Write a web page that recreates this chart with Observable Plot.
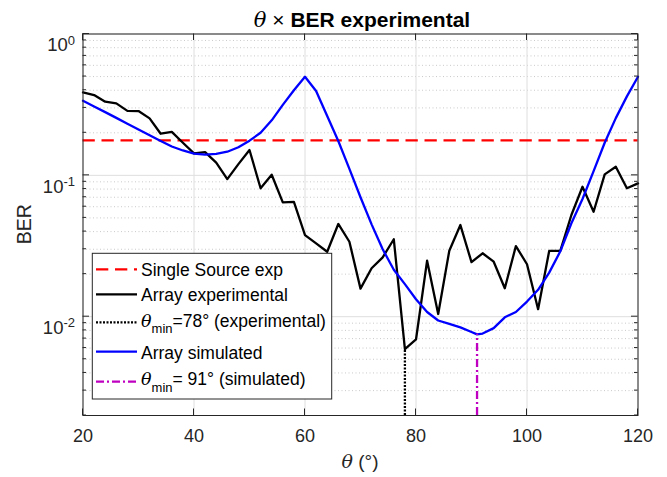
<!DOCTYPE html>
<html><head><meta charset="utf-8">
<script src="https://cdn.jsdelivr.net/npm/d3@7"></script>
<script src="https://cdn.jsdelivr.net/npm/@observablehq/plot@0.6"></script>
<style>
html,body{margin:0;padding:0;background:#fff}
svg{display:block}
</style>
</head><body><div id="chart"></div>
<script>
// ---------- data ----------
const thetaExp = [20,22,24,26,28,30,32,34,36,38,40,42,44,46,48,50,52,54,56,58,60,62,64,66,68,70,72,74,76,78,80,82,84,86,88,90,92,94,96,98,100,102,104,106,108,110,112,114,116,118,120];
const berExp = [0.386,0.370,0.332,0.323,0.286,0.285,0.253,0.197,0.203,0.170,0.143,0.146,0.123,0.094,0.12,0.151,0.081,0.101,0.0644,0.065,0.0378,0.033,0.0288,0.0453,0.0339,0.0158,0.022,0.0263,0.0353,0.0059,0.0069,0.0249,0.01045,0.0293,0.0445,0.0243,0.0281,0.0245,0.0159,0.0316,0.0235,0.0113,0.0292,0.0292,0.0524,0.083,0.0553,0.1016,0.115,0.081,0.0878];
const thetaSim = [20,22,24,26,28,30,32,34,36,38,40,42,44,46,48,50,52,54,56,58,60,62,64,66,68,70,72,74,76,78,80,82,84,86,88,90,91,92,94,96,98,100,102,104,106,108,110,112,114,116,118,120];
const berSim = [0.337,0.307,0.280,0.255,0.232,0.211,0.192,0.175,0.160,0.150,0.1425,0.140,0.142,0.147,0.158,0.176,0.200,0.245,0.315,0.400,0.498,0.395,0.263,0.175,0.111,0.070,0.045,0.030,0.0215,0.0170,0.0133,0.0108,0.0094,0.0089,0.0084,0.0078,0.0075,0.0076,0.0083,0.0099,0.0108,0.0128,0.0155,0.0205,0.0290,0.0458,0.068,0.107,0.17,0.254,0.362,0.498];
const berSingle = 0.177;
const thetaMinExp = 78, berMinExp = 0.0059;
const thetaMinSim = 91, berMinSim = 0.0075;
const xTicks = [20,40,60,80,100,120];
const yTicks = [1,0.1,0.01];
const yMinor = [0.002,0.003,0.004,0.005,0.006,0.007,0.008,0.009,0.02,0.03,0.04,0.05,0.06,0.07,0.08,0.09,0.2,0.3,0.4,0.5,0.6,0.7,0.8,0.9];
const yDomain = [0.002,1];
const xDomain = [20,120];
const legendLabels = ["Single Source exp","Array experimental","=78° (experimental)","Array simulated","= 91° (simulated)"];

// ---------- tables ----------
const expData = thetaExp.map((t,i)=>({t, v:berExp[i]}));
const simData = thetaSim.map((t,i)=>({t, v:berSim[i]}));
const minExp = [{t:thetaMinExp, lo:yDomain[0], hi:berMinExp}];
const minSim = [{t:thetaMinSim, lo:yDomain[0], hi:berMinSim}];

const FONT = "'Liberation Sans', Arial, Helvetica, sans-serif";
const SERIF = "'DejaVu Serif', 'Liberation Serif', serif";
const INK = "#262626";
const LW = 2.3;

const plot = Plot.plot({
  width: 667, height: 477,
  marginLeft: 82.5, marginRight: 29.5, marginTop: 33.5, marginBottom: 62,
  style: {fontFamily: FONT, fontSize: "18px", color: INK, background: "white", overflow: "visible"},
  x: {domain: xDomain},
  y: {type: "log", domain: yDomain},
  marks: [
    Plot.ruleY(yMinor, {stroke: "#bdbdbd", strokeWidth: 0.8, strokeDasharray: "1,2.5"}),
    Plot.ruleX(xTicks, {stroke: "#dedede", strokeWidth: 1}),
    Plot.ruleY(yTicks, {stroke: "#dedede", strokeWidth: 1}),
    Plot.ruleY([berSingle], {stroke: "#ff0000", strokeWidth: LW, strokeDasharray: "12.3,6.7"}),
    Plot.line(expData, {x: "t", y: "v", stroke: "#000000", strokeWidth: LW}),
    Plot.ruleX(minExp, {x: "t", y1: "lo", y2: "hi", stroke: "#000000", strokeWidth: LW, strokeDasharray: "2,1.5"}),
    Plot.line(simData, {x: "t", y: "v", stroke: "#0000ff", strokeWidth: LW}),
    Plot.ruleX(minSim, {x: "t", y1: "lo", y2: "hi", stroke: "#c000c0", strokeWidth: LW, strokeDasharray: "8,3,2,3"}),
    Plot.frame({stroke: INK, strokeWidth: 1}),
    Plot.axisX({ticks: xTicks, tickSize: 0, tickPadding: 14, label: null, fontSize: 18, fill: INK}),
    Plot.axisY({ticks: yTicks, tickSize: 0, tickPadding: 8, label: null, fontSize: 18, fill: INK,
      tickFormat: d => "10|" + Math.round(Math.log10(d))})
  ]
});

const sx = plot.scale("x"), sy = plot.scale("y");
const svg = d3.select(plot);
const X0 = sx.apply(xDomain[0]), X1 = sx.apply(xDomain[1]);
const Yb = sy.apply(yDomain[0]), Yt = sy.apply(yDomain[1]);

// inward ticks
const tk = svg.append("g").attr("stroke", INK).attr("stroke-width", 1);
xTicks.forEach(t => {
  const x = sx.apply(t);
  tk.append("line").attr("x1", x).attr("x2", x).attr("y1", Yb).attr("y2", Yb - 6.5);
  tk.append("line").attr("x1", x).attr("x2", x).attr("y1", Yt).attr("y2", Yt + 6.5);
});
yTicks.forEach(v => {
  const y = sy.apply(v);
  tk.append("line").attr("x1", X0).attr("x2", X0 + 6.5).attr("y1", y).attr("y2", y);
  tk.append("line").attr("x1", X1).attr("x2", X1 - 6.5).attr("y1", y).attr("y2", y);
});
yMinor.forEach(v => {
  const y = sy.apply(v);
  tk.append("line").attr("x1", X0).attr("x2", X0 + 3.5).attr("y1", y).attr("y2", y);
  tk.append("line").attr("x1", X1).attr("x2", X1 - 3.5).attr("y1", y).attr("y2", y);
});

// y tick labels with superscript
svg.selectAll("text").filter(function() { return this.textContent.indexOf("|") >= 0; }).each(function() {
  const el = d3.select(this);
  const [base, exp] = el.text().split("|");
  el.text(null).attr("dy", "0.62em").attr("font-size", 18.5);
  el.append("tspan").text(base);
  el.append("tspan").attr("dy", "-0.52em").attr("font-size", 13).text(exp);
});

// axis labels
svg.append("text").attr("x", (X0 + X1) / 2).attr("y", 468).attr("text-anchor", "middle")
  .attr("fill", INK).attr("font-size", 19)
  .call(t => {
    t.append("tspan").attr("font-family", SERIF).attr("font-style", "italic").text("θ");
    t.append("tspan").text(" (°)");
  });
svg.append("text").attr("transform", `translate(31,${(Yb + Yt) / 2}) rotate(-90)`)
  .attr("text-anchor", "middle").attr("fill", INK).attr("font-size", 19.5).text("BER");

// title
svg.append("text").attr("x", 362).attr("y", 26.7).attr("text-anchor", "middle")
  .attr("fill", "#000").attr("font-size", 21)
  .call(t => {
    t.append("tspan").attr("font-family", SERIF).attr("font-style", "italic").text("θ");
    t.append("tspan").text(" × ");
    t.append("tspan").attr("font-weight", "bold").text("BER experimental");
  });

// legend
const lg = svg.append("g").attr("text-anchor", "start");
lg.append("rect").attr("x", 92.3).attr("y", 253.3).attr("width", 239.4).attr("height", 145.7)
  .attr("fill", "white").attr("stroke", INK).attr("stroke-width", 1);
const legendStyles = [
  {stroke: "#ff0000", dash: "12.3,6.7", ly: 269.3, ty: 276},
  {stroke: "#000000", dash: null, ly: 294.3, ty: 301},
  {stroke: "#000000", dash: "2,1.5", ly: 322.3, ty: 326.7, theta: true},
  {stroke: "#0000ff", dash: null, ly: 351.7, ty: 358.7},
  {stroke: "#c000c0", dash: "8,3,2,3", ly: 381.7, ty: 385, theta: true}
];
legendLabels.forEach((lab, i) => {
  const s = legendStyles[i];
  lg.append("line").attr("x1", 96).attr("x2", 137).attr("y1", s.ly).attr("y2", s.ly)
    .attr("stroke", s.stroke).attr("stroke-width", LW).attr("stroke-dasharray", s.dash);
  const t = lg.append("text").attr("x", 141).attr("y", s.ty).attr("fill", "#000")
    .attr("font-size", 17.5).attr("text-anchor", "start");
  if (s.theta) {
    t.append("tspan").attr("font-family", SERIF).attr("font-style", "italic").text("θ");
    t.append("tspan").attr("font-size", 13).attr("dy", 6.5).text("min");
    t.append("tspan").attr("dy", -6.5).text(lab);
  } else {
    t.text(lab);
  }
});

document.getElementById("chart").appendChild(plot);
</script>
</body></html>
